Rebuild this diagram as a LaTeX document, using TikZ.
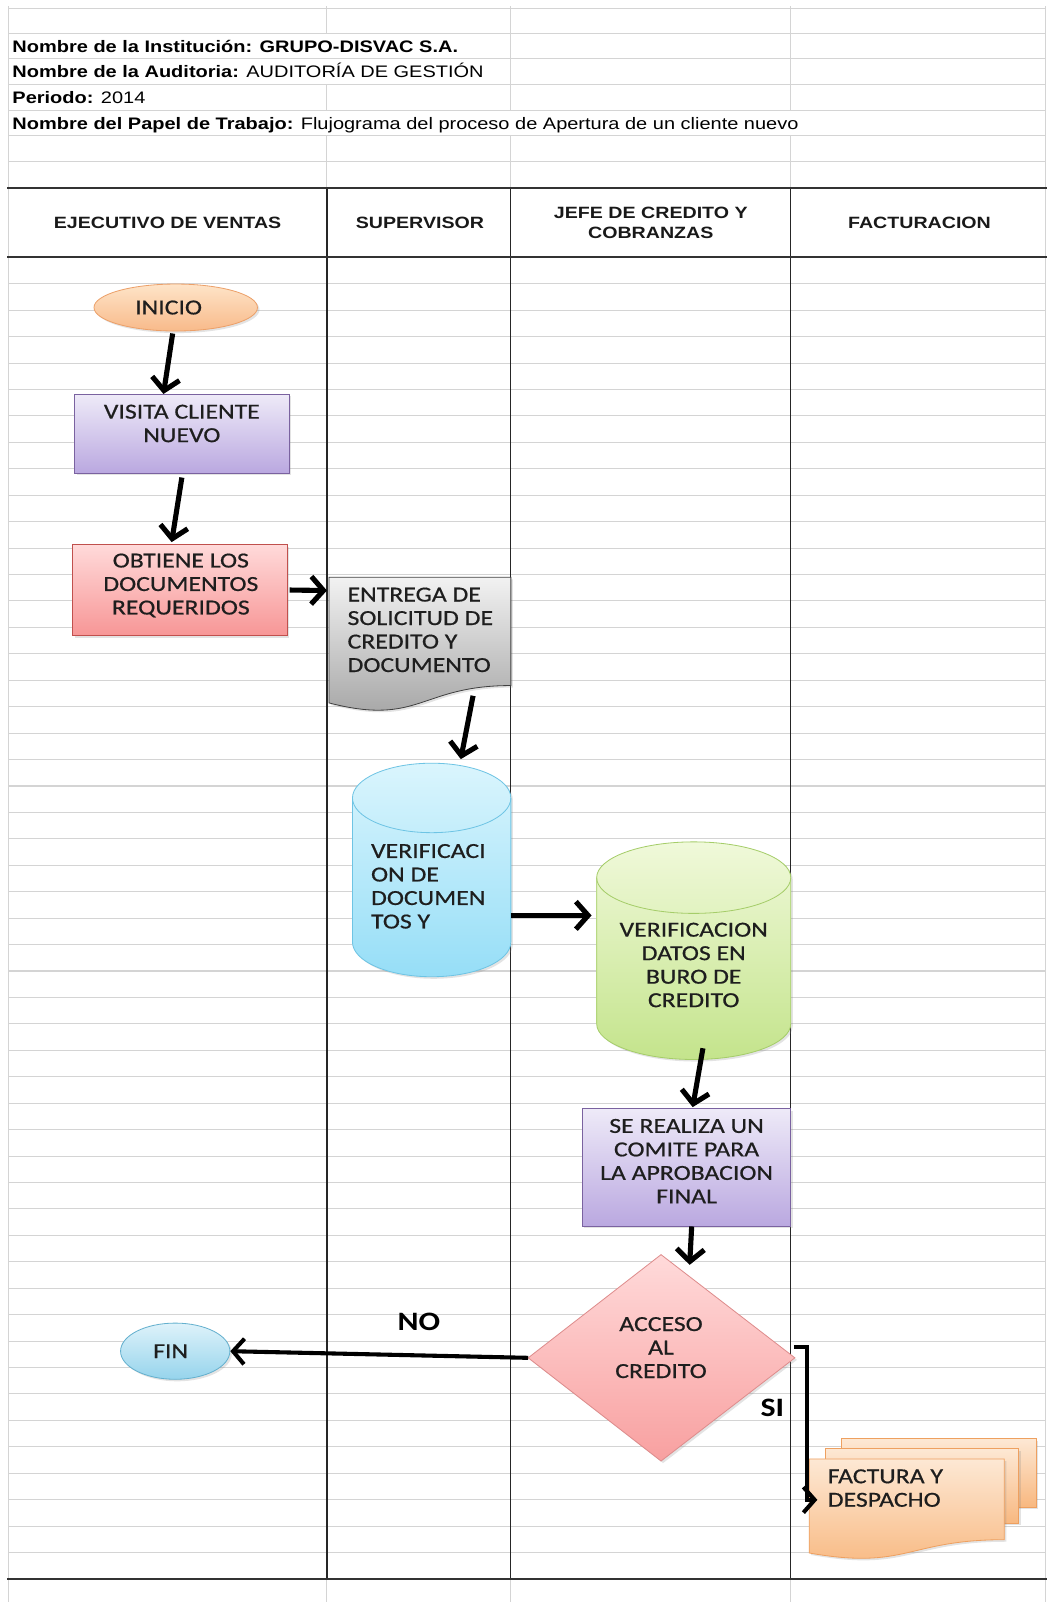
\documentclass[tikz,border=0pt]{standalone}
\usepackage{fontspec}
\setmainfont{Liberation Sans}
\newfontfamily\arialf[FakeStretch=1.2]{Liberation Sans}
\newfontfamily\calf[FakeStretch=1.2,FakeBold=0.6]{Carlito}
\newfontfamily\calbf[FakeStretch=1.2]{Carlito}
\usetikzlibrary{arrows.meta,shapes.geometric,shadows,calc}
\definecolor{txtc}{RGB}{30,30,30}
\definecolor{gridc}{RGB}{212,212,212}
\definecolor{iniT}{RGB}{254,228,200}\definecolor{iniB}{RGB}{248,186,138}\definecolor{iniD}{RGB}{236,160,105}
\definecolor{lavT}{RGB}{238,234,248}\definecolor{lavB}{RGB}{186,168,224}\definecolor{lavD}{RGB}{122,98,160}
\definecolor{pnkT}{RGB}{255,218,218}\definecolor{pnkB}{RGB}{247,150,150}\definecolor{pnkD}{RGB}{192,80,77}
\definecolor{gryT}{RGB}{242,242,242}\definecolor{gryB}{RGB}{160,160,160}\definecolor{gryD}{RGB}{64,64,64}
\definecolor{cynT}{RGB}{218,245,253}\definecolor{cynB}{RGB}{150,222,247}\definecolor{cynD}{RGB}{110,196,228}
\definecolor{grnT}{RGB}{240,249,218}\definecolor{grnB}{RGB}{196,228,140}\definecolor{grnD}{RGB}{165,205,105}
\definecolor{dmdT}{RGB}{255,218,218}\definecolor{dmdB}{RGB}{248,160,160}\definecolor{dmdD}{RGB}{222,140,140}
\definecolor{finT}{RGB}{222,242,250}\definecolor{finB}{RGB}{150,212,236}\definecolor{finD}{RGB}{100,176,206}
\definecolor{orgT}{RGB}{253,232,212}\definecolor{orgB}{RGB}{248,184,128}\definecolor{orgD}{RGB}{238,160,96}
\begin{document}
\begin{tikzpicture}[x=1pt,y=1pt,
  grid/.style={draw=gridc, line width=1pt},
  lane/.style={draw=black!85, line width=1.2pt},
  boldline/.style={draw=black!80, line width=2pt},
  hdr/.style={font=\arialf\fontsize{16.3}{19}\selectfont, inner sep=0, anchor=base west},
  lanetxt/.style={font=\arialf\bfseries\fontsize{16}{20}\selectfont, inner sep=0, align=center, text=black!90},
  stxt/.style={font=\calf\fontsize{21}{23}\selectfont, inner sep=0, text=txtc},
  lbl/.style={font=\calbf\bfseries\fontsize{26}{28}\selectfont, inner sep=0},
  arr/.style={draw=black, line width=5pt, -{Straight Barb[length=12pt,width=27pt]}},
  arrthin/.style={draw=black, line width=4pt, -{Straight Barb[length=11pt,width=25pt]}},
  shd/.style={drop shadow={opacity=0.22, shadow xshift=2pt, shadow yshift=-2pt}},
]
\useasboundingbox (0,0) rectangle (1025,-1568);
\fill[white] (0,0) rectangle (1025,-1568);

% ---- top grid
\foreach \y in {8,33,57,83,108,133,158} \draw[grid] (8,-\y) -- (1023,-\y);
\draw[grid] (8,-6) -- (8,-1568);
\draw[grid] (1023,-6) -- (1023,-1568);
\draw[grid] (320,-6) -- (320,-33);
\draw[grid] (320,-83) -- (320,-108);
\draw[grid] (320,-133) -- (320,-184);
\foreach \x in {500,774} {
  \draw[grid] (\x,-6) -- (\x,-108);
  \draw[grid] (\x,-133) -- (\x,-184);
  \draw[grid] (\x,-1545) -- (\x,-1568);
}
\draw[grid] (320,-1545) -- (320,-1568);

% ---- body grid
\foreach \k in {1,...,49} \draw[grid] (8,{-251.9-25.87*\k}) -- (1023,{-251.9-25.87*\k});

% ---- lanes
\foreach \x in {320,500,774} \draw[lane] (\x,-184) -- (\x,-1545.5);
\draw[boldline] (7,-184) -- (1025,-184);
\draw[boldline] (7,-252) -- (1025,-252);
\draw[boldline] (7,-1545.5) -- (1025,-1545.5);

% ---- header texts
\node[hdr] (h1) at (12,-51) {\bfseries Nombre de la Institución: GRUPO-DISVAC S.A.};
\node[hdr] (h2) at (12,-76) {\textbf{Nombre de la Auditoria:} AUDITORÍA DE GESTIÓN};
\node[hdr] (h3) at (12,-101) {\textbf{Periodo:} 2014};
\node[hdr] (h4) at (12,-127) {\textbf{Nombre del Papel de Trabajo:} Flujograma del proceso de Apertura de un cliente nuevo};

\node[lanetxt] (l1) at (164,-218) {EJECUTIVO DE VENTAS};
\node[lanetxt] (l2) at (411,-218) {SUPERVISOR};
\node[lanetxt] (l3) at (637,-218) {JEFE DE CREDITO Y\\COBRANZAS};
\node[lanetxt] (l4) at (900,-218) {FACTURACION};

% ---- shapes
\node[ellipse, minimum width=160, minimum height=46, inner sep=0, draw=iniD, line width=0.8pt, top color=iniT, bottom color=iniB, shd] (ini) at (172,-301) {};
\node[stxt] (initxt) at (165,-301) {INICIO};

\node[rectangle, minimum width=210, minimum height=77, inner sep=0, draw=lavD, line width=0.8pt, top color=lavT, bottom color=lavB, shd] (visita) at (178,-424.5) {};
\node[stxt, align=center] (visitatxt) at (178,-414.5) {VISITA CLIENTE\\NUEVO};

\node[rectangle, minimum width=210, minimum height=89, inner sep=0, draw=pnkD, line width=0.8pt, top color=pnkT, bottom color=pnkB, shd] (obtiene) at (176,-577.5) {};
\node[stxt, align=center] (obtienetxt) at (177,-573) {OBTIENE LOS\\DOCUMENTOS\\REQUERIDOS};

% document
\path[draw=gryD, line width=0.8pt, top color=gryT, bottom color=gryB, shd]
  (322,-565) -- (500,-565) -- (500,-671) .. controls (411,-671) and (411,-711) .. (322,-688) -- cycle;
\node[stxt, align=left, anchor=west] (doctxt) at (340,-616.5) {ENTREGA DE\\SOLICITUD DE\\CREDITO Y\\DOCUMENTO};
\coordinate (docW) at (320,-578);
\coordinate (docB) at (463,-681);

% cyan cylinder
\path[draw=cynD, line width=0.8pt, top color=cynT, bottom color=cynB, shd]
  (345,-781) -- (345,-922) arc[start angle=180,end angle=360,x radius=77.5,y radius=34]
  -- (500,-781) arc[start angle=0,end angle=180,x radius=77.5,y radius=34] -- cycle;
\draw[cynD, line width=0.8pt] (345,-781) arc[start angle=180,end angle=360,x radius=77.5,y radius=34];
\node[stxt, align=left, anchor=west] (cylatxt) at (363,-867.5) {VERIFICACI\\ON DE\\DOCUMEN\\TOS Y};
\coordinate (cylAtop) at (451,-743);
\coordinate (cylAE) at (500,-896);

% green cylinder
\path[draw=grnD, line width=0.8pt, top color=grnT, bottom color=grnB, shd]
  (584,-859) -- (584,-1002) arc[start angle=180,end angle=360,x radius=95,y radius=35]
  -- (774,-859) arc[start angle=0,end angle=180,x radius=95,y radius=35] -- cycle;
\draw[grnD, line width=0.8pt] (584,-859) arc[start angle=180,end angle=360,x radius=95,y radius=35];
\node[stxt, align=center] (cylbtxt) at (679,-944.5) {VERIFICACION\\DATOS EN\\BURO DE\\CREDITO};
\coordinate (cylBW) at (579,-896);
\coordinate (cylBB) at (688,-1026);

% comite
\node[rectangle, minimum width=204, minimum height=115, inner sep=0, draw=lavD, line width=0.8pt, top color=lavT, bottom color=lavB, shd] (comite) at (672,-1142.5) {};
\node[stxt, align=center] (comitetxt) at (672,-1136.5) {SE REALIZA UN\\COMITE PARA\\LA APROBACION\\FINAL};

% diamond
\path[draw=dmdD, line width=0.8pt, top color=dmdT, bottom color=dmdB, shd]
  (647,-1228) -- (778,-1329) -- (647,-1430) -- (517,-1329) -- cycle;
\node[stxt, align=center] (dmdtxt) at (647,-1319) {ACCESO\\AL\\CREDITO};
\coordinate (dN) at (675,-1238);
\coordinate (dW) at (517,-1329);
\coordinate (dE) at (777,-1318);

% FIN
\node[ellipse, minimum width=107, minimum height=55, inner sep=0, draw=finD, line width=0.8pt, top color=finT, bottom color=finB, shd] (fin) at (171.5,-1322.5) {};
\node[stxt] (fintxt) at (167,-1322.5) {FIN};

% multi document
\path[draw=orgD, line width=0.8pt, top color=orgT, bottom color=orgB, shd] (824,-1408) rectangle (1014,-1475);
\path[draw=orgD, line width=0.8pt, top color=orgT, bottom color=orgB, shd] (808,-1418) rectangle (997,-1491);
\path[draw=orgD, line width=0.8pt, top color=orgT, bottom color=orgB, shd]
  (792,-1428) -- (983,-1428) -- (983,-1507) .. controls (887.5,-1507) and (887.5,-1537) .. (792,-1520) -- cycle;
\node[stxt, align=left, anchor=west] (factxt) at (810,-1456.5) {FACTURA Y\\DESPACHO};
\coordinate (facW) at (800,-1468);

% labels
\node[lbl] (no) at (410,-1294) {NO};
\node[lbl] (si) at (756,-1378) {SI};

% ---- connectors
\draw[arr] ([shift={(-3,-2)}]ini.south) -- ([xshift=-18]visita.north);
\draw[arr] ([yshift=-4]visita.south) -- ([shift={(-8,2)}]obtiene.north);
\draw[arr] ([xshift=2]obtiene.east) -- (docW);
\draw[arr] (docB) -- (cylAtop);
\draw[arr] (cylAE) -- (cylBW);
\draw[arr] (cylBB) -- ([shift={(6,1)}]comite.north);
\draw[arr] ([xshift=5]comite.south) -- (dN);
\draw[arrthin] (dW) -- (fin.east);
\draw[arrthin] (dE) -- (790,-1318) -- (790,-1468) -- (facW);
\end{tikzpicture}
\end{document}
